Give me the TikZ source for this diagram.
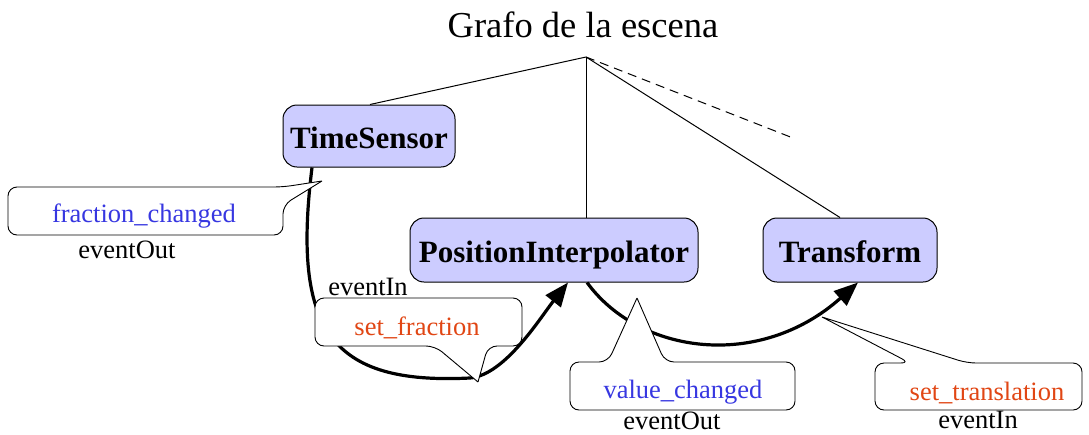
\documentclass[tikz,border=0pt]{standalone}
\usepackage{fontspec}
\setmainfont{Liberation Serif}
\usetikzlibrary{arrows.meta}
\definecolor{boxfill}{RGB}{204,204,255}
\definecolor{evblue}{RGB}{55,55,225}
\definecolor{evred}{RGB}{225,70,20}
\begin{document}
\begin{tikzpicture}[x=1pt,y=-1pt,
  objbox/.style={draw, line width=1pt, fill=boxfill, rounded corners=14pt,
    font=\fontsize{31}{31}\selectfont\bfseries, inner sep=0pt,
    text height=24pt, text depth=0pt},
  treeline/.style={line width=1pt},
  flow/.style={line width=3.2pt, -{Triangle[length=24pt,width=19pt]}},
  callout/.style={draw, fill=white, line width=0.9pt, rounded corners=9pt},
  evname/.style={anchor=base, font=\fontsize{26.5}{26.5}\selectfont},
  evkind/.style={anchor=base, font=\fontsize{26.5}{26.5}\selectfont},
]
\useasboundingbox (0,0) rectangle (1089,434);

% title
\node[anchor=base, font=\fontsize{36.5}{36.5}\selectfont] (title) at (583,37) {Grafo de la escena};
\coordinate (apex) at (586,57);
\coordinate (dashend) at (793,138);

% object nodes
\node[objbox, minimum width=172pt, minimum height=62pt] (ts) at (369,136) {TimeSensor};
\node[objbox, minimum width=288pt, minimum height=64pt] (pi) at (554,250) {PositionInterpolator};
\node[objbox, minimum width=174pt, minimum height=64pt] (tr) at (850,250) {Transform};

% tree lines
\draw[treeline] (apex) -- ([xshift=1pt]ts.north);
\draw[treeline] (apex) -- (apex |- pi.north);
\draw[treeline] (apex) -- ([xshift=-10pt]tr.north);
\draw[treeline, dash pattern=on 9pt off 6pt] (apex) -- (dashend);

% routes
\draw[flow] ([xshift=-57pt]ts.south) .. controls (292,330) and (330,385) .. (470,378)
  .. controls (505,375) and (540,318) .. ([xshift=14pt]pi.south);
\draw[flow] ([xshift=33pt]pi.south) .. controls (640,355) and (760,370) .. ([xshift=8pt]tr.south);

% callouts
\draw[callout] (322,181) -- (283,205) -- (283,235) -- (8,235) -- (8,187) -- (283,187) -- (322,181);
\draw[callout] (478,382) -- (488,346) -- (522,346) -- (522,298) -- (315,298) -- (315,346) -- (435,346) -- (478,382);
\draw[callout] (637,298) -- (665,362) -- (795,362) -- (795,410) -- (570,410) -- (570,362) -- (608,362) -- (637,298);
\draw[callout] (822,317) -- (967,363) -- (1082,363) -- (1082,410) -- (875,410) -- (875,363) -- (910,363) -- (822,317);

% labels
\node[evname, text=evblue] (fc) at (144,222) {fraction\_changed};
\node[evkind] (eo1) at (127,258) {eventOut};
\node[evkind] (ei1) at (368,295) {eventIn};
\node[evname, text=evred] (sf) at (417,335) {set\_fraction};
\node[evname, text=evblue] (vc) at (683,398) {value\_changed};
\node[evkind] (eo2) at (672,429) {eventOut};
\node[evname, text=evred] (st) at (987,400) {set\_translation};
\node[evkind] (ei2) at (978,428) {eventIn};
\end{tikzpicture}
\end{document}
